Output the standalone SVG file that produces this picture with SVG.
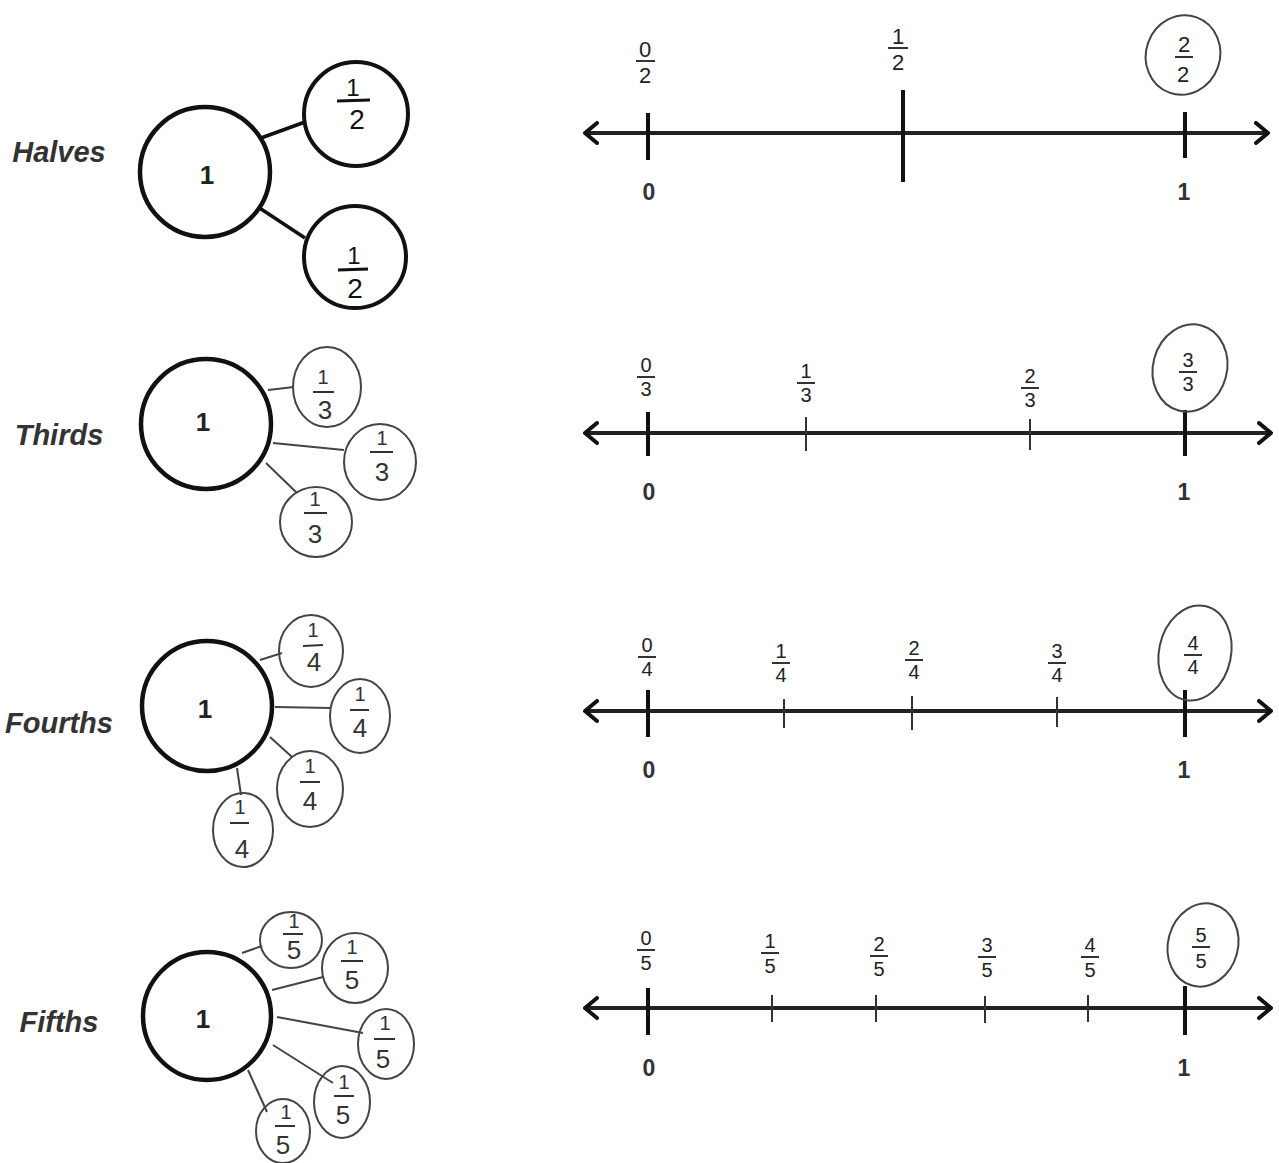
<svg xmlns="http://www.w3.org/2000/svg" width="1279" height="1163" viewBox="0 0 1279 1163">
<style>
.bg{fill:#fff}
.big{fill:#fff;stroke:#111;stroke-width:4.5}
.bold{fill:#fff;stroke:#111;stroke-width:4}
.hand{fill:none;stroke:#444;stroke-width:2}
.lbl{font-family:"Liberation Sans",Arial,sans-serif;font-style:italic;font-weight:bold;font-size:29px;fill:#333;text-anchor:middle}
.one{font-family:"Liberation Sans",Arial,sans-serif;font-weight:bold;font-size:26px;fill:#222;text-anchor:middle}
.num{font-family:"Liberation Sans",Arial,sans-serif;font-size:20px;fill:#333;text-anchor:middle}
.den{font-family:"Liberation Sans",Arial,sans-serif;font-size:26px;fill:#333;text-anchor:middle}
.numb{font-family:"Liberation Sans",Arial,sans-serif;font-size:24px;fill:#111;text-anchor:middle}
.denb{font-family:"Liberation Sans",Arial,sans-serif;font-size:28px;fill:#111;text-anchor:middle}
.bar{stroke:#333;stroke-width:2}
.barb{stroke:#111;stroke-width:3}
.link{stroke:#444;stroke-width:2;fill:none}
.linkb{stroke:#111;stroke-width:3.5;fill:none}
.axis{stroke:#222;stroke-width:4;fill:none;marker-start:url(#chev);marker-end:url(#chev)}
.tick{stroke:#111;stroke-width:4}
.tk{stroke:#333;stroke-width:2}
.ax{font-family:"Liberation Sans",Arial,sans-serif;font-weight:bold;font-size:23px;fill:#333;text-anchor:middle}
.nf{font-family:"Liberation Sans",Arial,sans-serif;font-size:20px;fill:#222;text-anchor:middle}
.nfb{font-family:"Liberation Sans",Arial,sans-serif;font-size:22px;fill:#222;text-anchor:middle}
</style>
<defs>
<marker id="chev" viewBox="0 0 16 24" refX="14" refY="12" markerWidth="16" markerHeight="24" markerUnits="userSpaceOnUse" orient="auto-start-reverse">
<path d="M2,2 L14,12 L2,22" fill="none" stroke="#111" stroke-width="4" stroke-linecap="round" stroke-linejoin="round"/>
</marker>
</defs>
<rect class="bg" x="0" y="0" width="1279" height="1163"/>

<!-- connectors -->
<g id="connectors">
<line class="linkb" x1="261" y1="138" x2="305" y2="122"/>
<line class="linkb" x1="258" y1="207" x2="305" y2="238"/>
<line class="link" x1="268" y1="390" x2="294" y2="387"/>
<line class="link" x1="273" y1="443" x2="344" y2="450"/>
<line class="link" x1="266" y1="463" x2="297" y2="493"/>
<line class="link" x1="260" y1="660" x2="282" y2="653"/>
<line class="link" x1="275" y1="707" x2="331" y2="708"/>
<line class="link" x1="270" y1="737" x2="292" y2="757"/>
<line class="link" x1="237" y1="768" x2="241" y2="795"/>
<line class="link" x1="242" y1="953" x2="262" y2="946"/>
<line class="link" x1="272" y1="990" x2="323" y2="977"/>
<line class="link" x1="277" y1="1017" x2="363" y2="1033"/>
<line class="link" x1="273" y1="1045" x2="333" y2="1083"/>
<line class="link" x1="248" y1="1070" x2="267" y2="1112"/>
</g>

<!-- Halves -->
<g id="halves-label"><text class="lbl" x="59" y="162">Halves</text></g>
<g id="halves-whole"><circle class="big" cx="205" cy="172" r="65"/><text class="one" x="207" y="184">1</text></g>
<g id="halves-part1"><circle class="bold" cx="356" cy="114" r="52"/>
<text class="numb" x="353" y="96">1</text><line class="barb" x1="337" y1="101" x2="370" y2="100"/><text class="denb" x="357" y="129">2</text></g>
<g id="halves-part2"><circle class="bold" cx="355" cy="257" r="51"/>
<text class="numb" x="354" y="264">1</text><line class="barb" x1="338" y1="270" x2="368" y2="269"/><text class="denb" x="355" y="298">2</text></g>

<!-- Thirds -->
<g id="thirds-label"><text class="lbl" x="59" y="445">Thirds</text></g>
<g id="thirds-whole"><circle class="big" cx="206" cy="424" r="65"/><text class="one" x="203" y="431">1</text></g>
<g id="thirds-part1"><ellipse class="hand" cx="327" cy="387" rx="34" ry="40"/>
<text class="num" x="323" y="384">1</text><line class="bar" x1="313" y1="392" x2="334" y2="392"/><text class="den" x="325" y="419">3</text></g>
<g id="thirds-part2"><ellipse class="hand" cx="380" cy="462" rx="36" ry="38"/>
<text class="num" x="382" y="445">1</text><line class="bar" x1="370" y1="452" x2="393" y2="452"/><text class="den" x="382" y="481">3</text></g>
<g id="thirds-part3"><ellipse class="hand" cx="316" cy="522" rx="36" ry="35"/>
<text class="num" x="315" y="506">1</text><line class="bar" x1="304" y1="513" x2="327" y2="513"/><text class="den" x="315" y="543">3</text></g>

<!-- Fourths -->
<g id="fourths-label"><text class="lbl" x="59" y="733">Fourths</text></g>
<g id="fourths-whole"><circle class="big" cx="207" cy="706" r="65"/><text class="one" x="205" y="718">1</text></g>
<g id="fourths-part1"><ellipse class="hand" cx="311" cy="651" rx="32" ry="36"/>
<text class="num" x="313" y="637">1</text><line class="bar" x1="303" y1="646" x2="323" y2="645"/><text class="den" x="314" y="671">4</text></g>
<g id="fourths-part2"><ellipse class="hand" cx="360" cy="716" rx="30" ry="37"/>
<text class="num" x="360" y="701">1</text><line class="bar" x1="350" y1="710" x2="369" y2="710"/><text class="den" x="360" y="737">4</text></g>
<g id="fourths-part3"><ellipse class="hand" cx="310" cy="789" rx="33" ry="38"/>
<text class="num" x="310" y="773">1</text><line class="bar" x1="300" y1="782" x2="320" y2="782"/><text class="den" x="310" y="810">4</text></g>
<g id="fourths-part4"><ellipse class="hand" cx="243" cy="830" rx="30" ry="37"/>
<text class="num" x="240" y="814">1</text><line class="bar" x1="230" y1="823" x2="249" y2="823"/><text class="den" x="242" y="858">4</text></g>

<!-- Fifths -->
<g id="fifths-label"><text class="lbl" x="59" y="1032">Fifths</text></g>
<g id="fifths-whole"><circle class="big" cx="207" cy="1016" r="64"/><text class="one" x="203" y="1028">1</text></g>
<g id="fifths-part1"><ellipse class="hand" cx="291" cy="940" rx="31" ry="28"/>
<text class="num" x="294" y="928">1</text><line class="bar" x1="283" y1="934" x2="303" y2="934"/><text class="den" x="294" y="959">5</text></g>
<g id="fifths-part2"><ellipse class="hand" cx="355" cy="968" rx="33" ry="35"/>
<text class="num" x="352" y="954">1</text><line class="bar" x1="341" y1="961" x2="363" y2="961"/><text class="den" x="352" y="989">5</text></g>
<g id="fifths-part3"><ellipse class="hand" cx="386" cy="1044" rx="28" ry="35"/>
<text class="num" x="385" y="1030">1</text><line class="bar" x1="374" y1="1039" x2="395" y2="1039"/><text class="den" x="383" y="1068">5</text></g>
<g id="fifths-part4"><ellipse class="hand" cx="342" cy="1102" rx="28" ry="36"/>
<text class="num" x="344" y="1089">1</text><line class="bar" x1="334" y1="1096" x2="354" y2="1096"/><text class="den" x="343" y="1124">5</text></g>
<g id="fifths-part5"><ellipse class="hand" cx="283" cy="1131" rx="27" ry="32"/>
<text class="num" x="286" y="1119">1</text><line class="bar" x1="275" y1="1126" x2="295" y2="1126"/><text class="den" x="283" y="1154">5</text></g>

<!-- Number line: halves -->
<g id="numberline-halves">
<line class="axis" x1="585" y1="133" x2="1268" y2="133"/>
<line class="tick" x1="648" y1="113" x2="648" y2="160"/>
<line class="tick" x1="903" y1="90" x2="903" y2="182"/>
<line class="tick" x1="1185" y1="112" x2="1185" y2="158"/>
<text class="ax" x="649" y="200">0</text>
<text class="ax" x="1184" y="200">1</text>
<text class="nfb" x="645" y="57">0</text><line class="bar" x1="636" y1="61" x2="655" y2="61"/><text class="nfb" x="645" y="83">2</text>
<text class="nfb" x="898" y="44">1</text><line class="bar" x1="888" y1="48" x2="908" y2="48"/><text class="nfb" x="898" y="70">2</text>
<ellipse class="hand" cx="1183" cy="55" rx="37" ry="40" transform="rotate(20 1183 55)"/>
<text class="nfb" x="1184" y="52">2</text><line class="bar" x1="1175" y1="57" x2="1193" y2="57"/><text class="nfb" x="1183" y="82">2</text>
</g>

<!-- Number line: thirds -->
<g id="numberline-thirds">
<line class="axis" x1="585" y1="433" x2="1271" y2="433"/>
<line class="tick" x1="648" y1="412" x2="648" y2="456"/>
<line class="tk" x1="806" y1="417" x2="806" y2="451"/>
<line class="tk" x1="1030" y1="419" x2="1030" y2="450"/>
<line class="tick" x1="1185" y1="410" x2="1185" y2="456"/>
<text class="ax" x="649" y="500">0</text>
<text class="ax" x="1184" y="500">1</text>
<text class="nf" x="646" y="372">0</text><line class="bar" x1="637" y1="377" x2="655" y2="377"/><text class="nf" x="646" y="396">3</text>
<text class="nf" x="806" y="378">1</text><line class="bar" x1="797" y1="383" x2="815" y2="383"/><text class="nf" x="806" y="402">3</text>
<text class="nf" x="1030" y="383">2</text><line class="bar" x1="1021" y1="388" x2="1039" y2="388"/><text class="nf" x="1030" y="407">3</text>
<ellipse class="hand" cx="1190" cy="368" rx="37" ry="44" transform="rotate(15 1190 368)"/>
<text class="nf" x="1188" y="367">3</text><line class="bar" x1="1179" y1="372" x2="1197" y2="372"/><text class="nf" x="1188" y="391">3</text>
</g>

<!-- Number line: fourths -->
<g id="numberline-fourths">
<line class="axis" x1="585" y1="711" x2="1271" y2="711"/>
<line class="tick" x1="648" y1="690" x2="648" y2="737"/>
<line class="tk" x1="784" y1="699" x2="784" y2="728"/>
<line class="tk" x1="912" y1="696" x2="912" y2="730"/>
<line class="tk" x1="1057" y1="697" x2="1057" y2="727"/>
<line class="tick" x1="1185" y1="690" x2="1185" y2="737"/>
<text class="ax" x="649" y="778">0</text>
<text class="ax" x="1184" y="778">1</text>
<text class="nf" x="647" y="652">0</text><line class="bar" x1="638" y1="657" x2="656" y2="657"/><text class="nf" x="647" y="676">4</text>
<text class="nf" x="781" y="658">1</text><line class="bar" x1="772" y1="663" x2="790" y2="663"/><text class="nf" x="781" y="682">4</text>
<text class="nf" x="914" y="655">2</text><line class="bar" x1="905" y1="660" x2="923" y2="660"/><text class="nf" x="914" y="679">4</text>
<text class="nf" x="1057" y="658">3</text><line class="bar" x1="1048" y1="663" x2="1066" y2="663"/><text class="nf" x="1057" y="682">4</text>
<ellipse class="hand" cx="1195" cy="653" rx="36" ry="48" transform="rotate(12 1195 653)"/>
<text class="nf" x="1193" y="650">4</text><line class="bar" x1="1184" y1="655" x2="1202" y2="655"/><text class="nf" x="1193" y="674">4</text>
</g>

<!-- Number line: fifths -->
<g id="numberline-fifths">
<line class="axis" x1="585" y1="1008" x2="1271" y2="1008"/>
<line class="tick" x1="648" y1="988" x2="648" y2="1035"/>
<line class="tk" x1="772" y1="995" x2="772" y2="1022"/>
<line class="tk" x1="876" y1="995" x2="876" y2="1022"/>
<line class="tk" x1="985" y1="996" x2="985" y2="1023"/>
<line class="tk" x1="1088" y1="995" x2="1088" y2="1022"/>
<line class="tick" x1="1185" y1="986" x2="1185" y2="1035"/>
<text class="ax" x="649" y="1076">0</text>
<text class="ax" x="1184" y="1076">1</text>
<text class="nf" x="646" y="945">0</text><line class="bar" x1="637" y1="950" x2="655" y2="950"/><text class="nf" x="646" y="970">5</text>
<text class="nf" x="770" y="948">1</text><line class="bar" x1="761" y1="953" x2="779" y2="953"/><text class="nf" x="770" y="973">5</text>
<text class="nf" x="879" y="951">2</text><line class="bar" x1="870" y1="956" x2="888" y2="956"/><text class="nf" x="879" y="976">5</text>
<text class="nf" x="987" y="952">3</text><line class="bar" x1="978" y1="957" x2="996" y2="957"/><text class="nf" x="987" y="977">5</text>
<text class="nf" x="1090" y="952">4</text><line class="bar" x1="1081" y1="957" x2="1099" y2="957"/><text class="nf" x="1090" y="977">5</text>
<ellipse class="hand" cx="1203" cy="945" rx="35" ry="42" transform="rotate(15 1203 945)"/>
<text class="nf" x="1201" y="942">5</text><line class="bar" x1="1192" y1="947" x2="1210" y2="947"/><text class="nf" x="1201" y="968">5</text>
</g>
</svg>
